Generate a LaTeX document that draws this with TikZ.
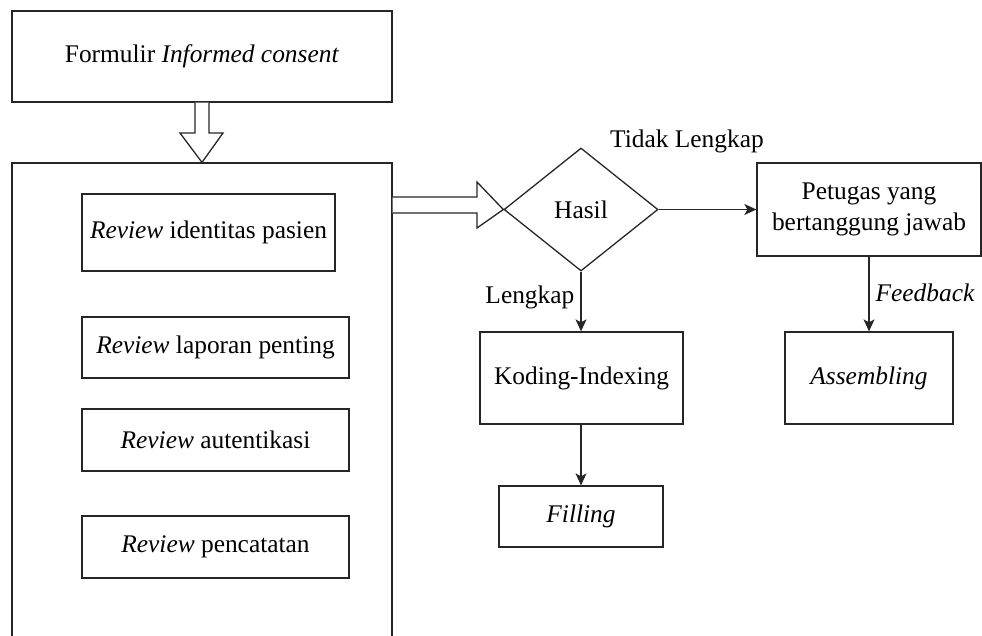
\documentclass[tikz,border=0pt]{standalone}
\usepackage{fontspec}
\setmainfont{Liberation Serif}
\usetikzlibrary{shapes.geometric,arrows.meta}
\begin{document}
\begin{tikzpicture}[x=1pt,y=-1pt,
  line width=1.3pt,
  every node/.style={font=\fontsize{25.4}{31}\selectfont},
  box/.style={draw=black!85, rectangle, inner sep=0pt, align=center},
  dec/.style={draw=black!85, diamond, inner sep=0pt, aspect=1.252, minimum width=154pt, minimum height=123pt},
  lbl/.style={inner sep=0pt},
  conn/.style={draw=black!85, -{Stealth[length=12pt,width=11pt,inset=3pt]}},
  hollow/.style={draw=black!85, fill=white, line join=miter}]
\useasboundingbox (0,0) rectangle (982,635);
\clip (0,0) rectangle (982,635);
% boxes
\node[box, minimum width=380pt, minimum height=91pt] (form) at (202,56.5) {Formulir \textit{Informed consent}};
\node[box, minimum width=380pt, minimum height=500pt] (big) at (202,413) {};
\node[box, minimum width=253pt, minimum height=77pt] (r1) at (208.5,232.5) {\textit{Review} identitas pasien};
\node[box, minimum width=267pt, minimum height=61pt] (r2) at (215.5,347.5) {\textit{Review} laporan penting};
\node[box, minimum width=267pt, minimum height=62pt] (r3) at (215.5,440) {\textit{Review} autentikasi};
\node[box, minimum width=267pt, minimum height=62pt] (r4) at (215.5,547) {\textit{Review} pencatatan};
\node[dec] (hasil) at (581,209.5) {Hasil};
\node[box, minimum width=224pt, minimum height=93pt] (pet) at (869,209.5) {Petugas yang\\bertanggung jawab};
\node[box, minimum width=203pt, minimum height=92pt] (kod) at (581.5,378) {Koding-Indexing};
\node[box, minimum width=168pt, minimum height=92pt] (asm) at (869,378) {\textit{Assembling}};
\node[box, minimum width=164pt, minimum height=61pt] (fil) at (581,516.5) {\textit{Filling}};
% labels
\node[lbl] (tl) at (687,141) {Tidak Lengkap};
\node[lbl, anchor=east] (lk) at (575,297) {Lengkap};
\node[lbl, anchor=west] (fb) at (875,293) {\textit{Feedback}};
% hollow arrows
\draw[hollow] (form.south -| 195,0) -- (195,133) -- (180,133) -- (big.north) -- (223,133) -- (209,133) -- (form.south -| 209,0);
\draw[hollow] (big.east |- 0,197) -- (477,197) -- (477,182) -- (hasil.west) -- (477,228) -- (477,213) -- (big.east |- 0,213);
% connectors
\draw[conn] (hasil.east) -- (pet.west);
\draw[conn] (hasil.south) -- (hasil.south |- kod.north);
\draw[conn] (kod.south -| fil.north) -- (fil.north);
\draw[conn] (pet.south) -- (asm.north);
\end{tikzpicture}
\end{document}
